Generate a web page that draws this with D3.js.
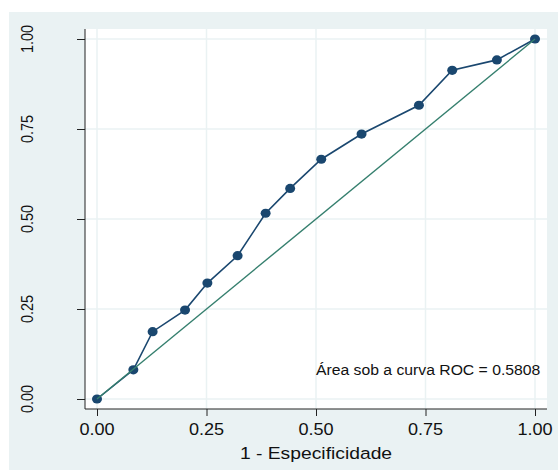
<!DOCTYPE html>
<html>
<head>
<meta charset="utf-8">
<script src="https://cdn.jsdelivr.net/npm/d3@7"></script>
<style>
  body { margin: 0; background: #fff; }
  text { font-family: "Liberation Sans", Arial, sans-serif; fill: #111; }
</style>
</head>
<body>
<div id="chart"></div>
<script>
// ROC points (1 - especificidade, sensibilidade)
var fpr = [0, 0.083, 0.127, 0.201, 0.252, 0.321, 0.385, 0.441, 0.512, 0.604, 0.735, 0.811, 0.913, 1];
var tpr = [0, 0.081, 0.187, 0.247, 0.322, 0.398, 0.516, 0.585, 0.666, 0.736, 0.816, 0.913, 0.942, 1];
var refLine = [0, 1];
var xTicks = [0, 0.25, 0.5, 0.75, 1];
var yTicks = [0, 0.25, 0.5, 0.75, 1];
var xTitle = "1 - Especificidade";
var note = "Área sob a curva ROC = 0.5808";

var width = 558, height = 470;

var svg = d3.select("#chart").append("svg")
    .attr("width", width)
    .attr("height", height);

// graph region (light blue-gray) and white plot region
svg.append("rect")
    .attr("x", 9).attr("y", 12)
    .attr("width", width - 9).attr("height", height - 12)
    .attr("fill", "#eaf2f3");

var plot = { left: 85, top: 29, right: 547, bottom: 409 };

svg.append("rect")
    .attr("x", plot.left).attr("y", plot.top)
    .attr("width", plot.right - plot.left)
    .attr("height", plot.bottom - plot.top)
    .attr("fill", "#fff");

var x = d3.scaleLinear().domain([0, 1]).range([97, 535]);
var y = d3.scaleLinear().domain([0, 1]).range([399, 39]);

// grid
svg.append("g").selectAll("line.vgrid")
    .data(xTicks).enter().append("line")
    .attr("class", "vgrid")
    .attr("x1", function(d) { return x(d); })
    .attr("x2", function(d) { return x(d); })
    .attr("y1", plot.top).attr("y2", plot.bottom)
    .attr("stroke", "#eaf2f3").attr("stroke-width", 1.5);

svg.append("g").selectAll("line.hgrid")
    .data(yTicks).enter().append("line")
    .attr("class", "hgrid")
    .attr("x1", plot.left).attr("x2", plot.right)
    .attr("y1", function(d) { return y(d); })
    .attr("y2", function(d) { return y(d); })
    .attr("stroke", "#eaf2f3").attr("stroke-width", 1.5);

// axes
var xAxis = d3.axisBottom(x).tickValues(xTicks).tickSize(7).tickFormat("");
var yAxis = d3.axisLeft(y).tickValues(yTicks).tickSize(8).tickFormat("");

var gx = svg.append("g")
    .attr("transform", "translate(0," + plot.bottom + ")")
    .call(xAxis);
gx.select(".domain").attr("d", "M" + plot.left + ",0H" + plot.right).attr("stroke", "#222");
gx.selectAll(".tick line").attr("stroke", "#222");

var gy = svg.append("g")
    .attr("transform", "translate(" + plot.left + ",0)")
    .call(yAxis);
gy.select(".domain").attr("d", "M0," + plot.top + "V" + plot.bottom).attr("stroke", "#222");
gy.selectAll(".tick line").attr("stroke", "#222");

// tick labels (the original picture is slightly stretched horizontally)
svg.selectAll("text.xlab")
    .data(xTicks).enter().append("text")
    .attr("class", "xlab")
    .attr("text-anchor", "middle")
    .attr("transform", function(d) { return "translate(" + x(d) + ",435) scale(1.13,1)"; })
    .style("font-size", "16px")
    .text(function(d) { return d3.format(".2f")(d); });

svg.selectAll("text.ylab")
    .data(yTicks).enter().append("text")
    .attr("class", "ylab")
    .attr("text-anchor", "middle")
    .attr("transform", function(d) { return "translate(33," + y(d) + ") scale(1.2,1) rotate(-90)"; })
    .style("font-size", "14.5px")
    .text(function(d) { return d3.format(".2f")(d); });

svg.append("text")
    .attr("text-anchor", "middle")
    .attr("transform", "translate(" + ((plot.left + plot.right) / 2) + ",459) scale(1.17,1)")
    .style("font-size", "16.5px")
    .text(xTitle);

// ROC curve
var pts = fpr.map(function(d, i) { return [d, tpr[i]]; });

var line = d3.line()
    .x(function(d) { return x(d[0]); })
    .y(function(d) { return y(d[1]); });

svg.append("path")
    .datum(pts)
    .attr("d", line)
    .attr("fill", "none")
    .attr("stroke", "#1a476f")
    .attr("stroke-width", 1.6);

svg.selectAll("ellipse.pt")
    .data(pts).enter().append("ellipse")
    .attr("class", "pt")
    .attr("cx", function(d) { return x(d[0]); })
    .attr("cy", function(d) { return y(d[1]); })
    .attr("rx", 5).attr("ry", 4.6)
    .attr("fill", "#1a476f");

// reference line
svg.append("path")
    .datum(refLine.map(function(d) { return [d, d]; }))
    .attr("d", line)
    .attr("fill", "none")
    .attr("stroke", "#357f6e")
    .attr("stroke-width", 1.4);

// annotation
svg.append("text")
    .attr("text-anchor", "start")
    .attr("transform", "translate(" + x(0.5) + "," + y(0.067) + ") scale(1.05,1)")
    .style("font-size", "15px")
    .text(note);
</script>
</body>
</html>
